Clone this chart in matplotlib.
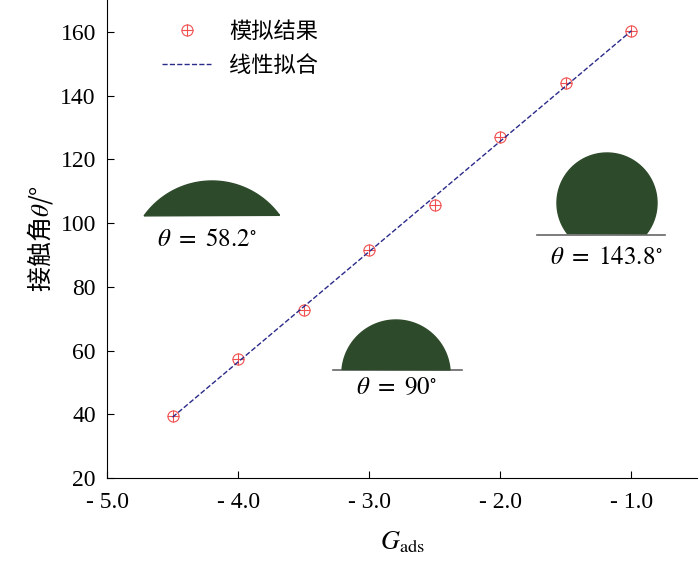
import numpy as np
import matplotlib
matplotlib.use("Agg")
import matplotlib.pyplot as plt
from matplotlib.patches import Polygon

plt.rcParams['font.family'] = ['Liberation Serif', 'Noto Sans CJK SC']
plt.rcParams['mathtext.fontset'] = 'stix'

g_ads = [-4.5, -4.0, -3.5, -3.0, -2.5, -2.0, -1.5, -1.0]
angle = [39.5, 57.2, 72.6, 91.7, 105.8, 126.9, 143.8, 160.2]
xticks = [-5.0, -4.0, -3.0, -2.0, -1.0]
yticks = [20, 40, 60, 80, 100, 120, 140, 160]

fig = plt.figure(figsize=(7, 5.67), dpi=100)
ax = fig.add_axes([107/700, 1-478/567, 590/700, 478/567])
h1, = ax.plot(g_ads, angle, 'o', ms=8, mfc='none', mec='#f05050', mew=0.8)
h2, = ax.plot(g_ads, angle, '+', ms=8, color='#f05050', mew=0.8)
coef = np.polyfit(g_ads, angle, 1)
xs = np.array([g_ads[0], g_ads[-1]])
h3, = ax.plot(xs, np.polyval(coef, xs), '--', color='#2a2a8a', lw=1)
ax.set_xlim(-5, -0.5)
ax.set_ylim(20, 170)
ax.set_xticks(xticks)
ax.set_xticklabels(['- %.1f' % abs(v) for v in xticks])
ax.set_yticks(yticks)
ax.spines['top'].set_visible(False)
ax.spines['right'].set_visible(False)
ax.tick_params(direction='in', labelsize=17, length=5)
ax.tick_params(axis='x', pad=10)
ax.tick_params(axis='y', pad=8)
ax.set_xlabel(r'$G_{\mathrm{ads}}$', fontsize=19, labelpad=12)
ax.set_ylabel('接触角$\\theta$/°', fontsize=18, family=['Noto Sans CJK SC', 'DejaVu Sans'])
leg = ax.legend([(h1, h2), h3], ['模拟结果', '线性拟合'], loc='upper left',
                bbox_to_anchor=(0.06, 1.0), frameon=False,
                prop={'family': 'Noto Sans CJK SC', 'size': 16}, handlelength=2.2)

def cap(cx, base, halfw, h, R=None):
    if R is None:
        R = (halfw**2 + h**2) / (2*h)
    cy = base - h + R
    th = np.linspace(0, 2*np.pi, 400)
    px = cx + R*np.cos(th); py = cy - R*np.sin(th)
    m = py <= base
    pts = np.column_stack([px[m], py[m]])
    ang = np.arctan2(-(pts[:, 1]-cy), pts[:, 0]-cx)
    ang = np.where(ang < -np.pi/2 + 1e-9, ang + 2*np.pi, ang)
    pts = pts[np.argsort(ang)]
    fpts = np.column_stack([pts[:, 0]/700, 1-pts[:, 1]/567])
    fig.patches.append(Polygon(fpts, closed=True, transform=fig.transFigure,
                               color='#2d4a2a', zorder=3))

def baseline(x0, x1, y):
    fig.lines.append(plt.Line2D([x0/700, x1/700], [1-y/567]*2, transform=fig.transFigure,
                                color='#666666', lw=1.2))

cap(212, 216, 68, 35)
cap(396, 370, 54, 50)
baseline(333, 462, 370)
cap(607, 234, 38, 81, R=50)
baseline(537, 665, 235)

fig.text(207/700, 1-240/567, r'$\theta\ =\ 58.2^{\circ}$', fontsize=18, ha='center', va='center')
fig.text(397/700, 1-388/567, r'$\theta\ =\ 90^{\circ}$', fontsize=18, ha='center', va='center')
fig.text(606/700, 1-258/567, r'$\theta\ =\ 143.8^{\circ}$', fontsize=18, ha='center', va='center')

fig.savefig('out.png', dpi=100)
